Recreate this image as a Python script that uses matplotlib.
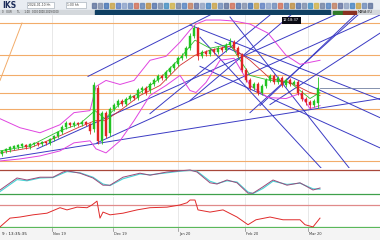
import matplotlib.pyplot as plt
from matplotlib.patches import Rectangle

W, H = 380, 240

# candles (bar index 0..79), prices in chart units
opens = [17, 20, 21, 23, 24, 25, 26, 24, 27, 28, 27, 29, 28, 32, 35, 39, 44, 48, 46, 48,
         47, 49, 47, 42, 82, 30, 58, 38, 62, 66, 70, 67, 72, 75, 73, 80, 82, 80, 86, 90,
         94, 92, 98, 102, 106, 112, 114, 122, 134, 142, 114, 118, 116, 120, 118, 122, 120, 125, 128, 122,
         115, 100, 90, 82, 86, 78, 84, 90, 94, 88, 92, 85, 90, 86, 88, 78, 72, 69, 66, 68]
closes = [20, 22, 24, 25, 26, 27, 24, 27, 28, 27, 29, 28, 32, 35, 39, 44, 48, 46, 48, 47,
          49, 47, 40, 85, 30, 58, 35, 62, 66, 70, 67, 72, 75, 73, 80, 82, 78, 86, 90, 94,
          92, 98, 102, 106, 112, 114, 122, 134, 142, 114, 118, 116, 120, 118, 122, 120, 125, 128, 122, 115,
          100, 90, 82, 86, 78, 84, 90, 94, 88, 92, 85, 90, 86, 88, 78, 72, 69, 66, 70, 82]
highs = [21, 23, 25, 26, 27, 28, 27, 28, 29, 29, 30, 30, 33, 36, 40, 46, 50, 49, 50, 49,
         51, 50, 48, 88, 85, 60, 60, 64, 68, 72, 72, 74, 77, 76, 82, 84, 84, 88, 92, 96,
         96, 100, 104, 108, 114, 117, 124, 137, 145, 143, 120, 120, 122, 122, 124, 124, 127, 132, 130, 124,
         117, 102, 92, 88, 88, 86, 92, 96, 96, 94, 94, 92, 92, 90, 90, 80, 74, 71, 72, 93]
lows = [15, 18, 19, 21, 22, 23, 22, 22, 25, 25, 25, 26, 26, 30, 33, 37, 42, 44, 44, 45,
        45, 45, 37, 39, 27, 27, 33, 35, 60, 64, 65, 65, 70, 71, 71, 78, 76, 78, 84, 88,
        90, 90, 96, 100, 104, 110, 112, 120, 132, 110, 112, 114, 114, 116, 116, 118, 118, 123, 120, 113,
        98, 88, 80, 80, 76, 76, 82, 88, 86, 86, 83, 83, 84, 85, 76, 70, 66, 63, 64, 63]

# indicator overlays
band_x = [-0.5, 4.5, 9.5, 14.5, 18, 22, 23.5, 26, 29.5, 33, 37, 41, 44.5, 47, 48.5, 51, 54.5, 58, 62, 66.5, 71, 74.5, 77, 79.5]
band_up = [52, 43, 38, 46, 58, 60, 84, 90, 86, 90, 110, 114, 128, 140, 146, 150, 150, 149, 146, 137, 115, 106, 108, 110]
band_lo = [10, 12, 15, 20, 28, 30, 22, 18, 30, 50, 75, 85, 95, 80, 78, 88, 110, 112, 85, 73, 72, 77, 62, 65]
ma_x = [-0.5, 7, 14.5, 19.5, 23.25, 25.75, 29.5, 34.5, 39.5, 44.5, 48.25, 52, 57, 62, 67, 72, 77, 79.5]
ma_slow = [18, 23, 35, 44, 50, 50, 60, 75, 85, 105, 115, 120, 124, 110, 92, 88, 78, 75]
ma_fast = [20, 25, 40, 47, 60, 52, 67, 78, 92, 112, 130, 122, 126, 95, 90, 88, 72, 78]

levels = [147, 115, 95, 78, 62, 10]
last_price = 82

# trend lines: (bar0, price0, bar1, price1)
trend_lines = [
    (-0.5, 12, 94.5, 72),
    (21.5, 94, 52.5, 156),
    (8.75, 22, 83.75, 156),
    (23.75, 28, 94.5, 155),
    (37, 57, 67, 155),
    (47, 70, 72.5, 156),
    (62, 58, 89.25, 156),
    (64.5, 65, 88.75, 157),
    (67, 66, 94.5, 137),
    (47, 145, 94.5, 71),
    (49.5, 133, 80, 2),
    (57, 153, 87, 2),
    (49.5, 104, 94.5, 23),
    (53.25, 128, 94.5, 53),
]
fib_line = (5, 147, -0.5, 90)

stoch_x = [-0.5, 3.75, 6.25, 9.5, 12.75, 15.25, 16.25, 19.5, 22.75, 25.25, 27, 30.25, 34.5, 37, 41.25,
           44.5, 47, 48.75, 52, 53.75, 56.25, 58.75, 61.5, 62.75, 65.25, 67.75, 71.25, 74.5, 77.75, 79.5]
stoch_k = [30, 60, 55, 62, 62, 75, 78, 72, 60, 42, 42, 62, 72, 67, 75,
           78, 80, 75, 48, 45, 55, 48, 22, 22, 38, 55, 42, 48, 30, 35]
stoch_d = [26, 56, 53, 60, 61, 72, 76, 73, 62, 45, 41, 58, 70, 68, 73,
           77, 79, 77, 52, 46, 53, 50, 25, 21, 34, 52, 44, 47, 33, 32]

rsi_x = [-0.5, 2, 4.5, 7.75, 11.25, 14.5, 16.25, 18.75, 21.25, 22.5, 23.75, 24.5, 25.25, 27, 30.25, 33.75,
         37, 41.25, 44.5, 46.25, 47, 48.25, 49, 52, 55.25, 58.75, 61.5, 63.5, 67, 70.25, 74.5, 75.75, 77.75, 79.5]
rsi = [30, 46, 48, 52, 55, 65, 61, 66, 65, 70, 77, 46, 57, 52, 55, 61,
       65, 66, 70, 74, 79, 79, 61, 57, 61, 48, 34, 43, 48, 43, 43, 34, 30, 46]

date_pos = [12.5, 27.75, 44, 60.75, 76.5]
date_labels = ["Nov 19", "Dec 19", "Jan 20", "Feb 20", "Mar 20"]

BLUE = "#3b3bc4"
ORANGE = "#f2ac6a"
MAGENTA = "#e044e0"
GRID = "#e4e4e4"

fig = plt.figure(figsize=(W / 100, H / 100), dpi=100)
fig.patch.set_facecolor("white")


def pane(x0, y0, x1, y1):
    a = fig.add_axes([x0 / W, 1 - y1 / H, (x1 - x0) / W, (y1 - y0) / H])
    a.set_xticks([])
    a.set_yticks([])
    for s in a.spines.values():
        s.set_visible(False)
    return a


# toolbar
bar = pane(0, 0, 380, 15)
bar.set_xlim(0, 380)
bar.set_ylim(15, 0)
bar.add_patch(Rectangle((0, 0), 380, 10, color="#e9edf2"))
bar.add_patch(Rectangle((0, 10), 380, 5, color="#d4d8dc"))
bar.add_patch(Rectangle((95, 10), 235, 4.5, color="#0f3f62"))
bar.add_patch(Rectangle((333, 10.5), 10, 3.5, color="#2f7a2a"))
bar.add_patch(Rectangle((343, 10.5), 13, 3.5, color="#8a3222"))
bar.text(2, 5, "IKS", fontsize=5.5, fontweight="bold", color="#1c2c5a", va="center")
bar.add_patch(Rectangle((27, 2), 27, 6, facecolor="white", edgecolor="#9aa4b0", lw=0.4))
bar.text(28, 5, "2024-01-10 hh", fontsize=2.2, color="#333", va="center")
bar.add_patch(Rectangle((66, 2), 20, 6, facecolor="white", edgecolor="#9aa4b0", lw=0.4))
bar.text(67, 5, "1:00 hh", fontsize=2.2, color="#333", va="center")
icon_x = [92, 98, 104, 110, 116, 122, 128, 134, 140, 146, 152, 158, 164, 170, 176, 182, 188, 194, 200,
          206, 212, 218, 224, 230, 236, 242, 248, 254, 260, 266, 272, 278, 284, 290, 296, 302, 308, 314,
          320, 326, 332, 338, 344, 350, 356, 362, 368]
icon_c = ["#5a6f9a", "#7f8ca8", "#3f6fb2", "#c8a040", "#5a7cc0", "#8aa0c8", "#6a88b8", "#d06a50",
          "#5f7fb2", "#bc8a3a", "#4f6fa8", "#7a8aa8", "#3e8ac0", "#d0b040", "#6f7fa0", "#4f7fbf",
          "#c07a5a", "#5f6f9f", "#8fa0c0", "#3f7fc0", "#c8a040", "#6a88b8", "#5a6f9a", "#d06a50",
          "#4f6fa8", "#7f8ca8", "#3f6fb2", "#c8a040", "#5a7cc0", "#8aa0c8", "#6a88b8", "#d06a50",
          "#5f7fb2", "#bc8a3a", "#4f6fa8", "#7a8aa8", "#3e8ac0", "#d0b040", "#6f7fa0", "#4f7fbf",
          "#c07a5a", "#5f6f9f", "#8fa0c0", "#3f7fc0", "#c8a040", "#6a88b8", "#5a6f9a"]
for xi, ci in zip(icon_x, icon_c):
    bar.add_patch(Rectangle((xi, 2.5), 4, 5, color=ci, alpha=0.75))
bar.text(2, 12.3, "0    EUR       TL      1.00   0000 0000 2019 0000", fontsize=1.8, color="#333", va="center")
bar.text(358, 12.3, "MAVA:EU", fontsize=2.4, color="#222", va="center")

# main price pane
ax = pane(0, 15, 380, 168)
ax.set_xlim(-0.5, 94.5)
ax.set_ylim(3, 155)
for d in date_pos:
    ax.axvline(d, color=GRID, lw=0.6, zorder=0)
for lv in levels:
    ax.axhline(lv, color=ORANGE, lw=0.8, zorder=1)
ax.plot([fib_line[0], fib_line[2]], [fib_line[1], fib_line[3]], color=ORANGE, lw=0.7, zorder=1)
for x0, y0, x1, y1 in trend_lines:
    ax.plot([x0, x1], [y0, y1], color=BLUE, lw=0.7, zorder=2)
ax.plot(band_x, band_up, color=MAGENTA, lw=0.7, zorder=3)
ax.plot(band_x, band_lo, color=MAGENTA, lw=0.7, zorder=3)
ax.plot(ma_x, ma_slow, color="#d23030", lw=0.6, zorder=3)
ax.plot(ma_x, ma_fast, color="#2fbf2f", lw=0.6, zorder=3)
ax.plot([79.5, 94.5], [last_price, last_price], color="#7080a0", lw=0.6, zorder=3)
for i in range(len(opens)):
    up = closes[i] >= opens[i]
    col = "#22c322" if up else "#e02424"
    ax.vlines(i, lows[i], highs[i], color=col, lw=0.6, zorder=4)
    ax.bar(i, max(abs(closes[i] - opens[i]), 0.8), bottom=min(opens[i], closes[i]), width=0.6,
           color=col, edgecolor=col, lw=0.3, zorder=5)
ax.text(0.766, 0.965, "12:18:37", transform=ax.transAxes, fontsize=2.6, color="white",
        ha="center", va="center", bbox=dict(boxstyle="square,pad=0.4", fc="#0a0a14", ec="none"))

# stochastic pane
ax2 = pane(0, 168, 380, 196)
ax2.set_xlim(-0.5, 94.5)
ax2.set_ylim(15, 85)
for d in date_pos:
    ax2.axvline(d, color=GRID, lw=0.6, zorder=0)
ax2.axhline(80, color="#a8473a", lw=0.9)
ax2.axhline(20, color="#3fa04a", lw=0.9)
ax2.plot(stoch_x, stoch_d, color="#45d6d6", lw=0.8)
ax2.plot(stoch_x, stoch_k, color="#9a4a7a", lw=0.7)
ax2.plot([-0.5, 94.5], [15.5, 15.5], color="#c8c8c8", lw=0.5)

# rsi pane
ax3 = pane(0, 197, 380, 228)
ax3.set_xlim(-0.5, 94.5)
ax3.set_ylim(28, 84.5)
for d in date_pos:
    ax3.axvline(d, color=GRID, lw=0.6, zorder=0)
ax3.axhline(70, color="#e08a8a", lw=0.9)
ax3.axhline(30, color="#5ab85a", lw=0.9)
ax3.plot(rsi_x, rsi, color="#e02a2a", lw=0.7)

# date axis
ax4 = pane(0, 228, 380, 240)
ax4.set_xlim(-0.5, 94.5)
ax4.set_ylim(0, 1)
ax4.add_patch(Rectangle((-0.5, 0), 95, 1, color="#f4f4f4"))
for d, lab in zip(date_pos, date_labels):
    ax4.plot([d, d], [0.75, 1], color="#888", lw=0.5)
    ax4.text(d + 0.2, 0.5, lab, fontsize=2.6, color="#333", va="center")
ax4.text(0, 0.5, "9 : 13:35:35", fontsize=3, color="#222", va="center")

fig.savefig("out.png", dpi=100)
